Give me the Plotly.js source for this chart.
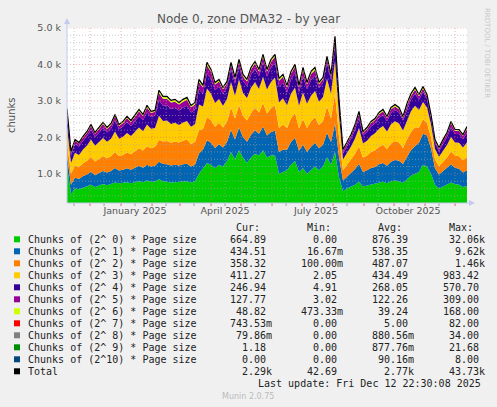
<!DOCTYPE html>
<html><head><meta charset="utf-8">
<script src="https://cdn.plot.ly/plotly-3.0.1.min.js"></script>
<style>html,body{margin:0;padding:0;background:#F0F0F0;}#chart{width:497px;height:407px;}</style>
</head><body><div id="chart"></div>
<script>
// ---- time axis ----
const startTime = '2024-11-07T22:30:00Z';
const endTime = '2025-12-12T22:30:00Z';
const stepDays = 4;

// ---- series values (chunks), one value every 4 days ----
const order0 = [1200,450,600,580,620,650,700,640,680,720,690,720,760,740,750,770,740,780,800,770,820,780,790,850,800,780,760,770,770,790,800,760,800,1000,1150,1300,1250,1150,1250,1200,1350,1600,1400,1650,1450,1300,1450,1550,1500,1650,1450,1500,1500,1000,1050,1100,1250,1350,1050,1150,1000,1100,1200,1100,1200,1450,1250,1600,900,520,600,650,700,780,650,680,700,720,760,780,740,800,820,800,750,850,950,1000,1050,1250,1200,1000,700,600,650,700,760,720,700,640,665];
const order1 = [300,250,300,280,320,330,360,320,340,360,350,360,400,350,360,380,370,390,420,400,430,420,430,480,470,480,470,480,460,470,480,440,450,560,520,620,600,560,560,520,520,600,540,620,560,580,620,640,600,650,600,650,680,600,620,560,620,640,580,650,600,640,650,600,600,680,620,780,560,300,330,380,430,500,400,420,460,470,500,520,480,530,560,560,520,620,700,760,800,850,850,700,450,380,420,450,500,450,440,400,435];
const order2 = [350,300,330,320,350,380,400,380,390,410,390,400,440,400,410,440,430,450,480,470,510,500,520,600,620,640,620,640,630,650,660,620,620,640,560,640,620,580,590,550,560,620,580,620,580,580,600,620,580,640,600,650,700,660,680,600,650,680,620,700,660,700,700,640,650,720,650,820,560,280,320,360,420,480,390,400,440,460,480,500,460,500,520,500,440,480,500,520,420,400,350,300,250,230,260,300,350,330,340,330,358];
const order3 = [450,300,350,340,380,420,480,430,460,490,450,480,560,470,500,530,500,530,570,530,590,540,520,660,560,560,520,510,480,500,510,470,490,700,620,780,730,650,650,600,620,700,620,700,630,620,690,700,650,720,660,720,760,700,720,620,680,700,620,730,660,700,720,640,660,760,680,900,580,290,320,360,420,500,390,410,440,460,500,510,480,530,540,520,480,530,570,590,480,470,420,350,280,260,300,340,400,360,370,350,411];
const order4 = [300,200,240,230,240,250,270,240,260,280,255,280,310,260,275,300,275,290,310,300,335,320,330,430,420,420,410,410,400,410,420,390,390,420,350,420,400,350,340,320,320,350,330,360,330,330,360,370,350,400,360,400,420,430,430,350,390,400,370,440,400,430,430,370,380,420,380,460,320,170,180,205,240,280,220,240,260,270,290,300,280,310,310,300,270,300,320,330,280,280,230,180,160,150,200,220,260,230,240,230,247];
const order5 = [130,80,90,80,80,95,105,90,100,105,95,100,115,95,100,110,105,115,135,115,135,110,110,200,190,180,175,170,160,160,165,145,150,200,170,220,200,160,145,130,115,130,120,130,120,125,140,145,130,150,135,155,150,165,160,140,160,165,130,180,130,170,150,110,105,130,100,140,85,75,75,85,100,120,75,80,95,95,105,105,90,100,100,90,70,95,105,110,95,90,80,60,70,70,80,90,120,90,90,90,128];
const order6 = [40,27,26,24,29,31,33,28,35,38,35,35,37,33,35,37,37,40,44,37,49,34,32,60,56,56,51,54,51,54,53,44,51,62,48,69,56,50,47,43,42,49,47,51,49,47,51,51,46,58,51,56,58,55,59,48,52,59,48,61,50,62,61,40,42,53,39,62,29,27,29,34,38,44,31,35,35,37,42,44,37,44,46,44,37,49,53,53,46,50,41,32,26,27,26,28,40,31,31,34,49];
const order7 = [4,2,3,3,4,5,6,5,5,6,5,5,6,5,5,6,5,6,7,6,7,6,6,9,8,8,7,7,7,7,7,6,7,8,6,8,7,6,6,5,5,6,5,6,5,5,6,6,5,6,5,6,6,6,6,5,6,6,5,6,5,6,6,5,5,6,5,7,4,3,3,3,4,4,3,3,4,4,4,4,4,4,4,4,3,4,4,4,4,4,4,3,2,2,2,3,3,3,3,2,0.74];
const order8 = [2,1,1,1,1,1,1,1,1,1,1,1,1,1,1,1,1,1,1,1,1,1,1,2,2,1,1,1,1,1,1,1,1,1,1,1,1,1,1,1,1,1,1,1,1,1,1,1,1,1,1,1,1,1,1,1,1,1,1,1,1,1,1,1,1,1,1,2,1,1,1,1,1,1,1,1,1,1,1,1,1,1,1,1,1,1,1,1,1,1,1,1,0.5,0.5,0.5,0.5,0.5,0.5,0.5,0.3,0.08];
const order9 = [1,1,1,1,1,1,1,1,1,1,1,1,1,1,1,1,1,1,1,1,1,1,1,1,1,1,1,1,1,1,1,1,1,1,1,1,1,1,1,1,1,1,1,1,1,1,1,1,1,1,1,1,1,1,1,1,1,1,1,1,1,1,1,1,1,1,1,1,1,1,1,1,1,1,1,1,1,1,1,1,1,1,1,1,1,1,1,1,1,1,1,1,1,1,1,1,1,1,1,1,1.18];
const order10 = [0,0,0,0,0,0,0,0,0,0,0,0,0,0,0,0,0,0,0,0,0,0,0,1,0,0,0,0,0,0,0,0,0,0,0,1,0,0,0,0,0,0,0,0,0,0,0,0,0,1,0,0,0,0,0,0,0,0,0,0,0,0,0,0,0,0,0,1,0,0,0,0,0,0,0,0,0,0,0,0,0,0,0,0,0,0,0,1,0,0,0,0,0,0,0,0,0,0,0,0,0];

const seriesLabels = ['Chunks of (2^ 0) * Page size','Chunks of (2^ 1) * Page size','Chunks of (2^ 2) * Page size','Chunks of (2^ 3) * Page size','Chunks of (2^ 4) * Page size','Chunks of (2^ 5) * Page size','Chunks of (2^ 6) * Page size','Chunks of (2^ 7) * Page size','Chunks of (2^ 8) * Page size','Chunks of (2^ 9) * Page size','Chunks of (2^10) * Page size','Total'];
const seriesColors = ['#00CC00','#0066B3','#FF8000','#FFCC00','#330099','#990099','#CCFF00','#FF0000','#808080','#008F00','#00487D','#000000'];

// ---- legend statistics ----
const curVals = ['664.89','434.51','358.32','411.27','246.94','127.77','48.82','743.53m','79.86m','1.18','0.00','2.29k'];
const minVals = ['0.00','16.67m','100.00m','2.05','4.91','3.02','473.33m','0.00','0.00','0.00','0.00','42.69'];
const avgVals = ['876.39','538.35','487.07','434.49','268.05','122.26','39.24','5.00','880.56m','877.76m','90.16m','2.77k'];
const maxVals = ['32.06k','9.62k','1.46k','983.42','570.70','309.00','168.00','82.00','34.00','21.68','8.00','43.73k'];

// ---- tick labels ----
const yTickVals = [1000,2000,3000,4000,5000];
const yTickText = ['1.0 k','2.0 k','3.0 k','4.0 k','5.0 k'];
const xTickVals = ['2025-01-15','2025-04-15','2025-07-15','2025-10-15'];
const xTickText = ['January 2025','April 2025','July 2025','October 2025'];

const series = [order0,order1,order2,order3,order4,order5,order6,order7,order8,order9,order10];

function fmtDate(ms){return new Date(ms).toISOString().slice(0,19).replace('T',' ');}
const t0 = Date.parse(startTime);
const dates = order0.map((_,i)=>fmtDate(t0 + i*stepDays*86400000));
const totals = dates.map((_,i)=>series.reduce((s,a)=>s+a[i],0));

const traces = series.map((vals,k)=>({
  x: dates, y: vals, type:'scatter', mode:'lines', stackgroup:'one',
  line:{width:0,color:seriesColors[k]}, fillcolor:seriesColors[k], hoverinfo:'skip', name:seriesLabels[k]
}));
traces.push({x:dates,y:totals,type:'scatter',mode:'lines',line:{width:1.2,color:'#000000'},hoverinfo:'skip',name:'Total'});

// ---- geometry helpers (pixel -> paper) ----
const L=67, R=467, T=28, B=203;
const px = v => (v-L)/(R-L);
const py = v => (B-v)/(B-T);

const shapes = [];
const redGrid = 'rgba(230,110,110,0.55)', grayGrid = 'rgba(170,170,170,0.6)';
// horizontal grid
for (let v=400; v<=5000; v+=200){
  const major = v%1000===0;
  shapes.push({type:'line',layer:'above',xref:'paper',yref:'y',x0:0,x1:1,y0:v,y1:v,line:{color:major?redGrid:grayGrid,width:1,dash:'1px,2px'}});
}
// vertical grid + ticks
for (let m=10; m<=23; m++){
  const yr = 2024 + Math.floor(m/12), mo = m%12;
  const ms1 = Date.UTC(yr,mo,1), ms15 = Date.UTC(yr,mo,15);
  [[ms1,redGrid,'rgba(230,90,90,0.9)'],[ms15,grayGrid,'rgba(150,150,150,0.9)']].forEach(([ms,c,tc])=>{
    if (ms> t0 && ms < Date.parse(endTime)){
      const d = fmtDate(ms);
      shapes.push({type:'line',layer:'above',xref:'x',yref:'paper',x0:d,x1:d,y0:0,y1:1,line:{color:c,width:1,dash:'1px,2px'}});
      shapes.push({type:'line',layer:'above',xref:'x',yref:'paper',x0:d,x1:d,y0:0,y1:py(206),line:{color:tc,width:1}});
    }
  });
}
// axis lines with arrows
const axisCol = '#C3CAEE';
shapes.push({type:'line',layer:'above',xref:'paper',yref:'paper',x0:0,x1:0,y0:0,y1:py(22),line:{color:axisCol,width:1}});
shapes.push({type:'line',layer:'above',xref:'paper',yref:'paper',x0:0,x1:px(470),y0:0,y1:0,line:{color:axisCol,width:1}});
shapes.push({type:'path',layer:'above',xref:'paper',yref:'paper',
  path:`M ${px(64)} ${py(24)} L ${px(70)} ${py(24)} L ${px(67)} ${py(18)} Z`,fillcolor:axisCol,line:{width:0}});
shapes.push({type:'path',layer:'above',xref:'paper',yref:'paper',
  path:`M ${px(469)} ${py(200)} L ${px(469)} ${py(206)} L ${px(475)} ${py(203)} Z`,fillcolor:axisCol,line:{width:0}});

// legend
const annotations = [];
const mono = {family:'DejaVu Sans Mono',size:10,color:'#222'};
const NB = '\u00A0';
function field(s){
  let suf = NB, num = s;
  if (/[a-zA-Z]$/.test(s)){suf = s.slice(-1); num = s.slice(0,-1);}
  while (num.length<6) num = NB+num;
  return num+suf;
}
const colX = [228.3, 299, 370, 440.7];
const headers = ['Cur:','Min:','Avg:','Max:'];
headers.forEach((h,j)=>annotations.push({xref:'paper',yref:'paper',x:px(colX[j]+6),y:py(227.7),text:h,showarrow:false,xanchor:'left',yanchor:'middle',font:mono}));
seriesLabels.forEach((lab,k)=>{
  const yc = 239.3 + 12*k;
  shapes.push({type:'rect',layer:'above',xref:'paper',yref:'paper',x0:px(14),x1:px(20),y0:py(yc+3),y1:py(yc-3),fillcolor:seriesColors[k],line:{width:0}});
  annotations.push({xref:'paper',yref:'paper',x:px(26),y:py(yc),text:lab.replace(/ /g,NB),showarrow:false,xanchor:'left',yanchor:'middle',font:mono});
  [curVals,minVals,avgVals,maxVals].forEach((arr,j)=>{
    annotations.push({xref:'paper',yref:'paper',x:px(colX[j]),y:py(yc),text:field(arr[k]),showarrow:false,xanchor:'left',yanchor:'middle',font:mono});
  });
});
annotations.push({xref:'paper',yref:'paper',x:px(483),y:py(383.3),text:'Last update: Fri Dec 12 22:30:08 2025'.replace(/ /g,NB),showarrow:false,xanchor:'right',yanchor:'middle',font:mono});
annotations.push({xref:'paper',yref:'paper',x:px(248),y:py(396),text:'Munin 2.0.75',showarrow:false,xanchor:'center',yanchor:'middle',font:{family:'DejaVu Sans',size:8,color:'#BBBBBB'}});
annotations.push({xref:'paper',yref:'paper',x:px(487),y:py(53),text:'RRDTOOL / TOBI OETIKER',textangle:90,showarrow:false,xanchor:'center',yanchor:'middle',font:{family:'DejaVu Sans',size:7,color:'#C8C8C8'}});
annotations.push({xref:'paper',yref:'paper',x:px(11),y:py(115),text:'chunks',textangle:-90,showarrow:false,xanchor:'center',yanchor:'middle',font:{family:'DejaVu Sans',size:10,color:'#555'}});

const tickFont = {family:'DejaVu Sans',size:9.5,color:'#555'};
const layout = {
  width:497, height:407,
  paper_bgcolor:'#F0F0F0', plot_bgcolor:'#FFFFFF',
  margin:{l:L,r:497-R,t:T,b:407-B,pad:0},
  showlegend:false, hovermode:false,
  title:{text:'Node 0, zone DMA32 - by year',xref:'container',x:0.5,xanchor:'center',yref:'container',y:1-19/407,yanchor:'middle',font:{family:'DejaVu Sans',size:12,color:'#555'}},
  xaxis:{type:'date',range:[fmtDate(t0),fmtDate(Date.parse(endTime))],tickmode:'array',tickvals:xTickVals,ticktext:xTickText,showgrid:false,zeroline:false,showline:false,ticks:'',tickfont:tickFont,fixedrange:true},
  yaxis:{range:[200,5000],tickmode:'array',tickvals:yTickVals,ticktext:yTickText,showgrid:false,zeroline:false,showline:false,ticks:'',ticklabelstandoff:5,tickfont:tickFont,fixedrange:true},
  shapes:shapes, annotations:annotations
};
Plotly.newPlot('chart',traces,layout,{displayModeBar:false,staticPlot:true});
</script></body></html>
